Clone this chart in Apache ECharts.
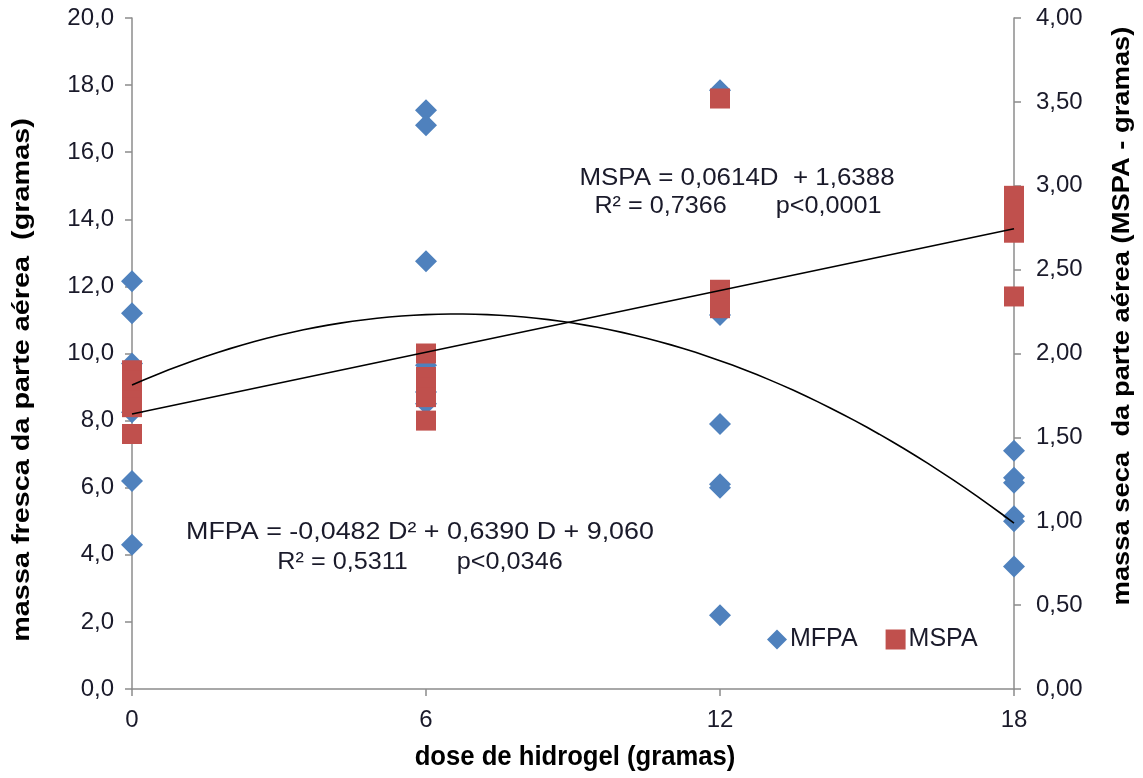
<!DOCTYPE html>
<html><head><meta charset="utf-8">
<script src="https://cdn.jsdelivr.net/npm/echarts@6/dist/echarts.min.js"></script>
<style>html,body{margin:0;padding:0;background:#fff}#c{width:1143px;height:778px}</style>
</head><body><div id="c"></div>
<script>
// dose (g) categories on x
const doses = [0, 6, 12, 18];
// MFPA (left axis, g) observations per dose
const mfpa0 = [12.15, 11.2, 9.7, 8.25, 6.2, 4.3];
const mfpa6 = [17.25, 16.8, 12.75, 9.65, 8.85, 8.5];
const mfpa12 = [17.85, 11.15, 7.9, 6.1, 6.0, 2.2];
const mfpa18 = [7.1, 6.3, 6.15, 5.15, 5.0, 3.65];
// MSPA (right axis, g) observations per dose
const mspa0 = [1.9, 1.84, 1.78, 1.72, 1.68, 1.52];
const mspa6 = [2.0, 1.86, 1.8, 1.74, 1.6];
const mspa12 = [3.52, 2.38, 2.32, 2.27];
const mspa18 = [2.94, 2.86, 2.79, 2.72, 2.34];
// regression coefficients printed on the chart
const mfpaCoef = [9.060, 0.6390, -0.0482]; // a + bD + cD^2
const mspaCoef = [1.6388, 0.0614];         // a + bD
const leftTicks = {min: 0, max: 20, interval: 2};
const rightTicks = {min: 0, max: 4, interval: 0.5};

function pts(xs, groups){ const out=[]; groups.forEach((g,i)=>g.forEach(v=>out.push([xs[i], v]))); return out; }
const mfpaData = pts(doses, [mfpa0, mfpa6, mfpa12, mfpa18]);
const mspaData = pts(doses, [mspa0, mspa6, mspa12, mspa18]);
const curve = []; for (let d = 0; d <= 18; d += 0.25) curve.push([d, mfpaCoef[0] + mfpaCoef[1]*d + mfpaCoef[2]*d*d]);
const line = [[0, mspaCoef[0]], [18, mspaCoef[0] + mspaCoef[1]*18]];

const F = 'Arial, "Liberation Sans", sans-serif';
const txt = '#1a1a2a';
const axisLine = {show: true, lineStyle: {color: '#8c8c8c', width: 1.5}};
const tick = {show: true, length: 7, lineStyle: {color: '#8c8c8c', width: 1.5}};

const chart = echarts.init(document.getElementById('c'));
chart.setOption({
  animation: false,
  backgroundColor: '#fff',
  grid: {left: 132, right: 129, top: 18, bottom: 89},
  xAxis: {type: 'value', min: 0, max: 18, interval: 6, splitLine: {show: false},
    axisLine: axisLine, axisTick: tick,
    axisLabel: {color: txt, fontSize: 24, fontFamily: F, margin: 19}},
  yAxis: [
    {type: 'value', position: 'left', min: leftTicks.min, max: leftTicks.max, interval: leftTicks.interval,
      splitLine: {show: false}, axisLine: axisLine, axisTick: tick,
      axisLabel: {color: txt, fontSize: 24, fontFamily: F, margin: 18, formatter: v => v.toFixed(1).replace('.', ',')}},
    {type: 'value', position: 'right', min: rightTicks.min, max: rightTicks.max, interval: rightTicks.interval,
      splitLine: {show: false}, axisLine: axisLine, axisTick: tick,
      axisLabel: {color: txt, fontSize: 24, fontFamily: F, margin: 22, formatter: v => v.toFixed(2).replace('.', ',')}}
  ],
  legend: {left: 767, top: 627, itemWidth: 20, itemHeight: 20, itemGap: 28, padding: 0,
    textStyle: {fontSize: 25, fontFamily: F, color: txt, padding: [0, 0, 0, -2]},
    data: [{name: 'MFPA', icon: 'diamond'}, {name: 'MSPA', icon: 'rect'}]},
  series: [
    {name: 'MFPA', type: 'scatter', yAxisIndex: 0, symbol: 'diamond', symbolSize: 22,
      itemStyle: {color: '#4F81BD', opacity: 1}, data: mfpaData, z: 2},
    {name: 'MSPA', type: 'scatter', yAxisIndex: 1, symbol: 'rect', symbolSize: 20,
      itemStyle: {color: '#C0504D', opacity: 1}, data: mspaData, z: 3},
    {name: 'fitMFPA', type: 'line', yAxisIndex: 0, data: curve, showSymbol: false, smooth: false,
      lineStyle: {color: '#000', width: 1.6}, z: 4},
    {name: 'fitMSPA', type: 'line', yAxisIndex: 1, data: line, showSymbol: false,
      lineStyle: {color: '#000', width: 1.6}, z: 4}
  ],
  graphic: [
    {type: 'text', x: 22, y: 380, rotation: Math.PI/2, scaleX: 1.2, style: {text: 'massa fresca da parte aérea  (gramas)', font: 'bold 24px ' + F, fill: '#000', align: 'center', verticalAlign: 'middle'}},
    {type: 'text', x: 1122, y: 316, rotation: Math.PI/2, scaleX: 1.14, style: {text: 'massa seca  da parte aérea (MSPA - gramas)', font: 'bold 24px ' + F, fill: '#000', align: 'center', verticalAlign: 'middle'}},
    {type: 'text', x: 575, y: 758, scaleX: 0.95, style: {text: 'dose de hidrogel (gramas)', font: 'bold 27px ' + F, fill: '#000', align: 'center', verticalAlign: 'middle'}},
    {type: 'text', x: 737, y: 178, scaleX: 1.08, style: {text: 'MSPA = 0,0614D  + 1,6388', font: '24px ' + F, fill: txt, align: 'center', verticalAlign: 'middle'}},
    {type: 'text', x: 738, y: 206, scaleX: 1.05, style: {text: 'R² = 0,7366       p<0,0001', font: '24px ' + F, fill: txt, align: 'center', verticalAlign: 'middle'}},
    {type: 'text', x: 420, y: 532, scaleX: 1.12, style: {text: 'MFPA = -0,0482 D² + 0,6390 D + 9,060', font: '24px ' + F, fill: txt, align: 'center', verticalAlign: 'middle'}},
    {type: 'text', x: 420, y: 562, scaleX: 1.05, style: {text: 'R² = 0,5311       p<0,0346', font: '24px ' + F, fill: txt, align: 'center', verticalAlign: 'middle'}}
  ]
});
</script></body></html>
